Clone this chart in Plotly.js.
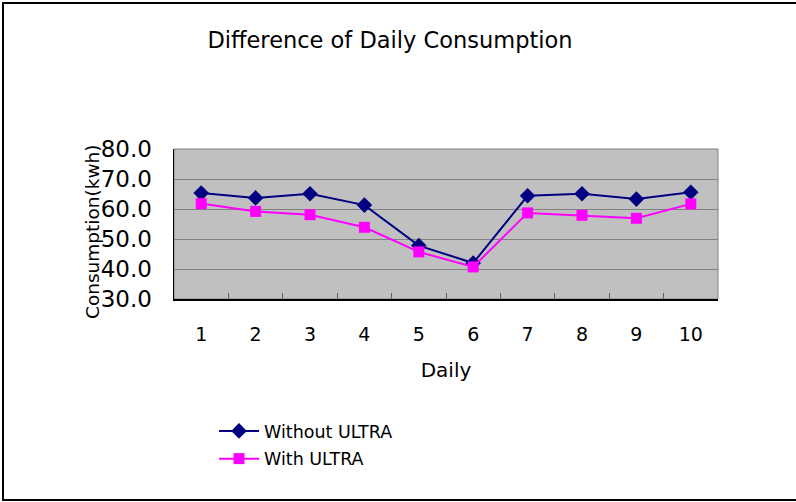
<!DOCTYPE html>
<html>
<head>
<meta charset="utf-8">
<script src="https://cdn.plot.ly/plotly-3.0.1.min.js"></script>
<style>
html,body{margin:0;padding:0;background:#fff;}
#wrap{position:relative;width:796px;height:502px;}
#chart{width:796px;height:502px;}
#frame{position:absolute;left:2px;top:2px;width:800px;height:499px;border:2px solid #000;box-sizing:border-box;pointer-events:none;}
</style>
</head>
<body>
<div id="wrap"><div id="chart"></div><div id="frame"></div></div>
<script>
const days = ['1','2','3','4','5','6','7','8','9','10'];
const withoutUltra = [65.3, 63.7, 65.1, 61.3, 47.8, 42.0, 64.4, 65.1, 63.3, 65.6];
const withUltra = [61.8, 59.2, 58.1, 53.9, 45.7, 40.7, 58.7, 57.9, 56.9, 61.7];
const seriesNames = ['Without ULTRA', 'With ULTRA'];

const FONT = 'DejaVu Sans, Liberation Sans, sans-serif';

const traces = [
  {x: days, y: withoutUltra, name: seriesNames[0], legendgroup: 'a', type: 'scatter', mode: 'lines+markers',
   line: {color: '#000080', width: 2}, marker: {symbol: 'diamond', size: 12, color: '#000080'}},
  {x: days, y: withUltra, name: seriesNames[1], legendgroup: 'b', type: 'scatter', mode: 'lines+markers',
   line: {color: '#ff00ff', width: 2}, marker: {symbol: 'square', size: 11, color: '#ff00ff'}}
];

const layout = {
  width: 796, height: 502,
  margin: {l: 174, r: 78, t: 149, b: 203},
  paper_bgcolor: '#ffffff',
  plot_bgcolor: '#c0c0c0',
  font: {family: FONT, color: '#000'},
  title: {text: 'Difference of Daily Consumption', font: {family: FONT, size: 22.5, color: '#000'},
          x: 390/796, xanchor: 'center', y: 1 - 40/502, yanchor: 'middle'},
  xaxis: {type: 'category', range: [-0.5, 9.5], autorange: false, tickson: 'boundaries', ticks: 'inside', ticklen: 6, tickcolor: '#606060',
          showgrid: false, showline: true, linecolor: '#000', linewidth: 1.5,
          tickfont: {family: FONT, size: 19}, ticklabelstandoff: 18,
          title: {text: 'Daily', font: {family: FONT, size: 20}, standoff: 18}},
  yaxis: {range: [30, 80], dtick: 10, tick0: 30, tickformat: '.1f', ticks: '',
          showgrid: true, gridcolor: '#808080', gridwidth: 1, zeroline: false,
          showline: true, linecolor: '#000', linewidth: 1.5,
          tickfont: {family: FONT, size: 23}, ticklabelstandoff: 16},
  showlegend: true,
  legend: {x: (214-174)/544, xanchor: 'left', y: (299-413)/150, yanchor: 'top',
           font: {family: FONT, size: 17.5}, bgcolor: 'rgba(0,0,0,0)', tracegroupgap: 2, itemwidth: 40},
  shapes: [{type: 'rect', xref: 'paper', yref: 'paper', x0: 0, x1: 1, y0: 0, y1: 1,
            line: {color: '#808080', width: 1}, layer: 'below'}],
  annotations: [{text: 'Consumption(kwh)', xref: 'paper', yref: 'paper',
                 x: (92-174)/544, y: (299-232)/150, textangle: -90, showarrow: false,
                 font: {family: FONT, size: 18.5, color: '#000'}, xanchor: 'center', yanchor: 'middle'}]
};

Plotly.newPlot('chart', traces, layout, {displayModeBar: false, staticPlot: true});
</script>
</body>
</html>
